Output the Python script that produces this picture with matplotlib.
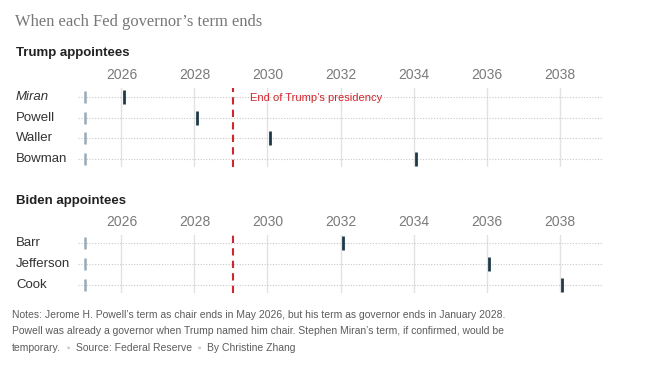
import matplotlib.pyplot as plt
import matplotlib.transforms as mtransforms

# data
trump_names = ["Miran", "Powell", "Waller", "Bowman"]
trump_ends = [2026.08, 2028.08, 2030.08, 2034.08]
biden_names = ["Barr", "Jefferson", "Cook"]
biden_ends = [2032.08, 2036.08, 2038.08]
start_year = 2025.0
presidency_end = 2029.05
year_ticks = [2026, 2028, 2030, 2032, 2034, 2036, 2038]

W, H = 657, 381
fig = plt.figure(figsize=(W / 100, H / 100), dpi=100)
plt.rcParams['font.family'] = ['Liberation Sans', 'DejaVu Sans']

xmin, xmax = 2024.81, 2039.19


def panel(top, bottom, names, ends, first_row_y, row_gap):
    ax = fig.add_axes([78 / W, 1 - bottom / H, (603 - 78) / W, (bottom - top) / H])
    n = len(names)
    rows = list(range(n))
    ax.set_xlim(xmin, xmax)
    y_top = -(first_row_y - top) / row_gap
    y_bot = y_top + (bottom - top) / row_gap
    ax.set_ylim(y_bot, y_top)
    for s in ax.spines.values():
        s.set_visible(False)
    ax.set_yticks([])
    ax.xaxis.tick_top()
    ax.set_xticks(year_ticks)
    ax.set_xticklabels([str(t) for t in year_ticks])
    ax.tick_params(axis='x', length=0, pad=4, labelsize=10, labelcolor='#7a7a7a')
    for t in year_ticks:
        ax.axvline(t, color='#e2e2e2', lw=1, zorder=0)
    ax.hlines(rows, xmin, xmax, colors='#c8c8c8', lw=0.8,
              linestyles=(0, (1, 1.5)), zorder=1)
    ax.axvline(presidency_end, color='#d0262d', lw=1.5,
               ls=(0, (3.5, 2.5)), zorder=3)
    ax.plot([start_year] * n, rows, '|', color='#9aabb6', ms=9, mew=1.8, zorder=4)
    ax.plot(ends, rows, '|', color='#1e3a48', ms=10, mew=2, zorder=4)
    tr = mtransforms.blended_transform_factory(fig.transFigure, ax.transData)
    for r, name in zip(rows, names):
        style = 'italic' if name == "Miran" else 'normal'
        ax.text(16 / W, r, name, transform=tr, fontsize=9.5, color='#333333',
                va='center', ha='left', style=style)
    return ax


ax1 = panel(88, 167, trump_names, trump_ends, 97, 20.7)
ax2 = panel(235, 293, biden_names, biden_ends, 243, 21)

ax1.text(presidency_end + 0.47, 0.05, "End of Trump\u2019s presidency",
         color='#d0262d', fontsize=8, va='center', ha='left')

fig.text(15 / W, 1 - 22 / H, "When each Fed governor\u2019s term ends",
         family=['Liberation Serif', 'DejaVu Serif'], fontsize=11.9,
         color='#777777', va='center')
fig.text(16 / W, 1 - 53 / H, "Trump appointees", fontsize=9.5,
         weight='bold', color='#222222', va='center')
fig.text(16 / W, 1 - 201 / H, "Biden appointees", fontsize=9.5,
         weight='bold', color='#222222', va='center')

note_font = ['Liberation Sans Narrow', 'Liberation Sans', 'DejaVu Sans']
note_kw = dict(family=note_font, fontsize=7.5, color='#5c5c5c', va='center')
fig.text(12 / W, 1 - 315 / H,
         "Notes: Jerome H. Powell\u2019s term as chair ends in May 2026, but his term as governor ends in January 2028.",
         **note_kw)
fig.text(12 / W, 1 - 331 / H,
         "Powell was already a governor when Trump named him chair. Stephen Miran\u2019s term, if confirmed, would be",
         **note_kw)

# last line with light separators
renderer = fig.canvas.get_renderer()
x = 12 / W
pieces = [("temporary.", '#5c5c5c'), ("  \u25aa  ", '#cccccc'),
          ("Source: Federal Reserve", '#5c5c5c'), ("  \u25aa  ", '#cccccc'),
          ("By Christine Zhang", '#5c5c5c')]
for txt, col in pieces:
    kw = dict(note_kw)
    kw['color'] = col
    t = fig.text(x, 1 - 348 / H, txt, **kw)
    bb = t.get_window_extent(renderer)
    x += bb.width / W

fig.savefig('out.png', dpi=100)
